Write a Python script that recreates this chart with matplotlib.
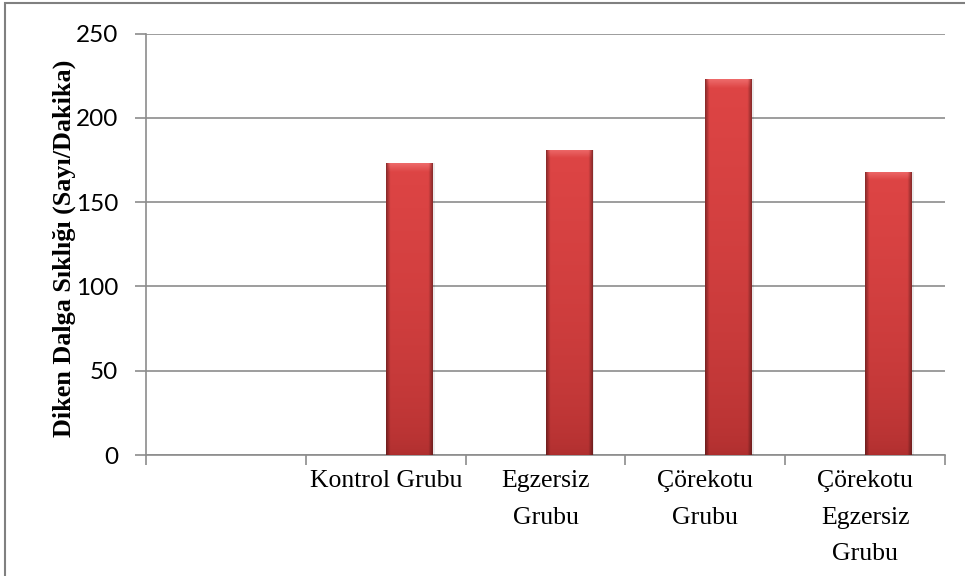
import numpy as np
import matplotlib
matplotlib.use("Agg")
import matplotlib.pyplot as plt
from matplotlib.patches import Rectangle

# Categories and measured spike-wave frequency
categories = ["", "Kontrol Grubu", "Egzersiz\nGrubu", "Çörekotu\nGrubu", "Çörekotu\nEgzersiz\nGrubu"]
values = [np.nan, 173, 181, 223, 168]
y_ticks = [0, 50, 100, 150, 200, 250]
y_label = "Diken Dalga Sıklığı (Sayı/Dakika)"

fig = plt.figure(figsize=(9.65, 5.76), dpi=100)
ax = fig.add_axes([146 / 965, 1 - 455 / 576, 799 / 965, 421.5 / 576])

n = len(categories)
centers = np.arange(n) + 0.5
bar_w = 0.294
bars = ax.bar(centers, values, width=bar_w, align="edge",
              color="#D64040", edgecolor="none", zorder=3)

ax.set_xlim(0, n)
ax.set_ylim(0, 250)


def bar_gradient(patch, ax):
    x0, y0 = patch.get_x(), patch.get_y()
    w, h = patch.get_width(), patch.get_height()
    if not np.isfinite(h) or h <= 0:
        return
    rows, cols = 300, 60
    yy = np.linspace(1, 0, rows)[:, None]          # 1 at top, 0 at bottom
    xx = np.linspace(0, 1, cols)[None, :]
    top = np.array([0.87, 0.27, 0.27])
    bot = np.array([0.68, 0.18, 0.18])
    base = bot + (top - bot) * np.sqrt(yy)[..., None]
    # darker side rims
    edge = np.minimum(xx, 1 - xx)
    side = np.clip(edge / 0.09, 0, 1)
    shade = 0.62 + 0.38 * side
    rgb = base * shade[..., None]
    # light bevel band at the top
    bevel_frac = min(5.0 / h, 0.3)
    bev = np.clip((yy - (1 - bevel_frac)) / bevel_frac, 0, 1)
    rgb = rgb + (np.array([0.94, 0.44, 0.44]) - rgb) * (bev[..., None] * side[..., None] * 0.85)
    img = np.clip(np.broadcast_to(rgb, (rows, cols, 3)), 0, 1)
    im = ax.imshow(img, extent=[x0, x0 + w, y0, y0 + h], aspect="auto",
                   zorder=3.5, interpolation="bilinear")
    im.set_clip_path(patch)
    # soft shadow on the right
    ax.add_patch(Rectangle((x0 + w, y0), 0.012, h, facecolor="#000000",
                           alpha=0.08, edgecolor="none", zorder=2.9))


for p in bars.patches:
    bar_gradient(p, ax)

grid_c = "#8C8C8C"
ax.set_yticks(y_ticks)
ax.yaxis.grid(True, color=grid_c, linewidth=1.2, zorder=0)
ax.set_axisbelow(True)

# category boundaries carry tick marks, centers carry labels
ax.set_xticks(np.arange(n + 1))
ax.set_xticklabels([])
ax.set_xticks(centers, minor=True)
ax.set_xticklabels(categories, minor=True, fontfamily="Liberation Serif",
                   fontsize=18.5, linespacing=1.85, va="top")
ax.tick_params(axis="x", which="minor", length=0, pad=11)
ax.tick_params(axis="x", which="major", length=7, width=1.2, color=grid_c, direction="out")
ax.tick_params(axis="y", length=8, width=1.2, color=grid_c, direction="out", pad=12,
               labelsize=17.5)
for lab in ax.get_yticklabels():
    lab.set_fontfamily("Lato")

for side in ["top", "right"]:
    ax.spines[side].set_visible(False)
for side in ["left", "bottom"]:
    ax.spines[side].set_color(grid_c)
    ax.spines[side].set_linewidth(1.2)

ax.set_ylabel(y_label, fontfamily="Liberation Serif", fontweight="bold", fontsize=18.8)
ax.yaxis.set_label_coords((76 - 146) / 799, 0.49)

# outer chart frame
fig.add_artist(Rectangle((5 / 965, -0.05), 1.1, 1 - 3 / 576 + 0.05,
                         transform=fig.transFigure, facecolor="none",
                         edgecolor="#808080", linewidth=1.5))

fig.savefig("out.png", dpi=100)
